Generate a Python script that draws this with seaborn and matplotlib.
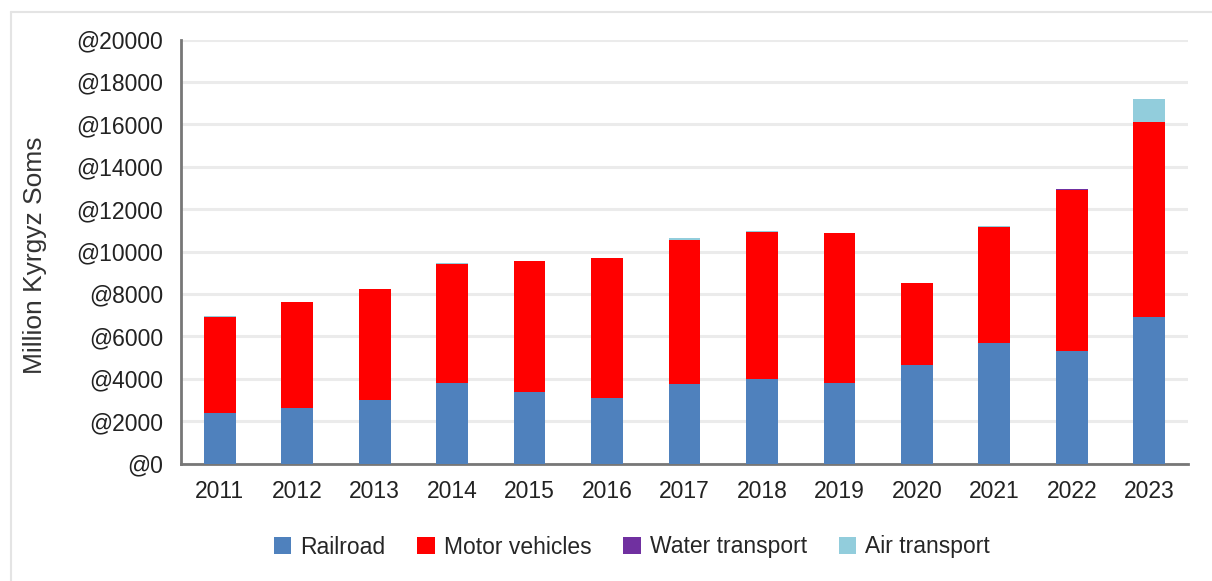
import matplotlib
matplotlib.use("Agg")
import matplotlib.pyplot as plt
import seaborn as sns
import numpy as np
from matplotlib.lines import Line2D
from matplotlib.patches import Patch

# Data (million Kyrgyz soms)
years = ['2011', '2012', '2013', '2014', '2015', '2016', '2017',
         '2018', '2019', '2020', '2021', '2022', '2023']
railroad = [2360, 2610, 2990, 3790, 3360, 3110, 3740, 4000, 3810, 4640, 5690, 5300, 6890]
motor_vehicles = [4530, 5000, 5220, 5630, 6200, 6590, 6790, 6910, 7040, 3880, 5470, 7620, 9210]
water_transport = [5, 5, 5, 5, 5, 5, 5, 5, 5, 5, 5, 5, 5]
air_transport = [50, 15, 15, 20, 10, 10, 100, 50, 15, 10, 15, 15, 1100]

series_names = ['Railroad', 'Motor vehicles', 'Water transport', 'Air transport']
series_colors = ['#4f81bd', '#ff0000', '#7030a0', '#92cddc']
y_ticks = list(range(0, 20001, 2000))
y_tick_labels = ['@' + str(v) for v in y_ticks]

sns.set_style("white")
plt.rcParams['font.family'] = ['Liberation Sans', 'DejaVu Sans']

W, H = 1212, 581
fig = plt.figure(figsize=(W / 100, H / 100), dpi=100)
ax = fig.add_axes([181 / W, 1 - 463.5 / H, (1188 - 181) / W, (463.5 - 39.5) / H])

# stacked bars
bottom = np.zeros(len(years))
for name, vals, col in zip(series_names,
                           [railroad, motor_vehicles, water_transport, air_transport],
                           series_colors):
    sns.barplot(x=years, y=vals, bottom=bottom, color=col, width=0.41,
                saturation=1, ax=ax, zorder=3, linewidth=0)
    bottom = bottom + np.array(vals)

ax.set_xlim(-0.5, len(years) - 0.5)
ax.set_ylim(0, 20000)
ax.set_yticks(y_ticks)
ax.set_yticklabels(y_tick_labels, fontsize=16.5, color='#222222')
ax.yaxis.grid(True, color='#ebebeb', linewidth=2.2, zorder=0)
ax.set_axisbelow(True)

# x ticks: labels at centres, marks at category boundaries
ax.set_xticks(range(len(years)))
ax.set_xticklabels(years, fontsize=16.5, color='#222222')
ax.set_xticks(np.arange(-0.5, len(years), 1.0), minor=True)
ax.tick_params(axis='x', which='major', length=0, pad=12)
ax.tick_params(axis='x', which='minor', length=7, width=2, color='#777777', direction='out')
ax.tick_params(axis='y', length=10, width=2, color='#777777', pad=3)

for side in ['top', 'right']:
    ax.spines[side].set_visible(False)
for side in ['left', 'bottom']:
    ax.spines[side].set_color('#777777')
    ax.spines[side].set_linewidth(2)

ax.set_xlabel('')
ax.set_ylabel('Million Kyrgyz Soms', fontsize=19, color='#333333')
ax.yaxis.label.set_va('center')
ax.yaxis.set_label_coords(-(181 - 35) / (1188 - 181), (463.5 - 255) / (463.5 - 39.5))

# legend under the chart
handles = [Patch(facecolor=c, edgecolor='none') for c in series_colors]
fig.legend(handles, series_names, loc='center', bbox_to_anchor=(632 / W, 1 - 547 / H),
           ncol=4, frameon=False, handlelength=0.75, handleheight=0.75,
           handletextpad=0.4, columnspacing=1.4, fontsize=16.5)

# thin frame around the chart area
fig.add_artist(Line2D([11 / W, 1], [1 - 12 / H, 1 - 12 / H], color='#e4e4e4', linewidth=1.5))
fig.add_artist(Line2D([11 / W, 11 / W], [0, 1 - 12 / H], color='#e4e4e4', linewidth=1.5))

fig.savefig('out.png', dpi=100)
